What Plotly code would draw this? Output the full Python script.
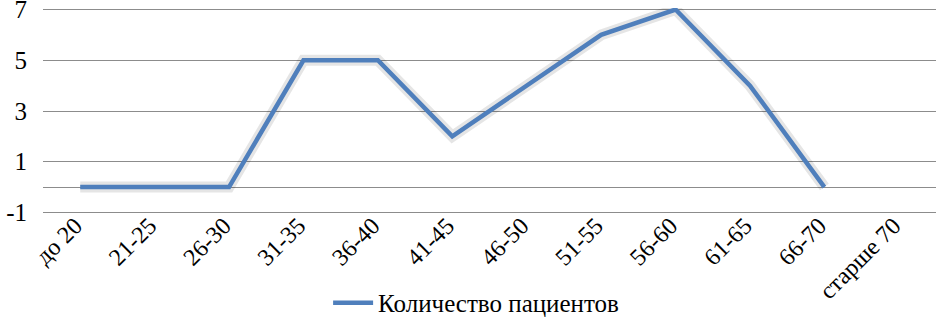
import plotly.graph_objects as go

categories = ["до 20", "21-25", "26-30", "31-35", "36-40", "41-45", "46-50",
              "51-55", "56-60", "61-65", "66-70", "старше 70"]
patients = [0, 0, 0, 5, 5, 2, 4, 6, 7, 4, 0, None]
y_ticks = [-1, 1, 3, 5, 7]
y_tick_labels = ["-1", "1", "3", "5", "7"]
series_name = "Количество пациентов"

font_family = "Times New Roman, Liberation Serif, serif"
blue = "#4F7FBC"

fig = go.Figure()
# soft shadow under the line
fig.add_trace(go.Scatter(x=categories, y=patients, mode="lines",
                         line=dict(color="rgba(0,0,0,0.10)", width=11),
                         showlegend=False, hoverinfo="skip"))
fig.add_trace(go.Scatter(x=categories, y=patients, mode="lines",
                         line=dict(color=blue, width=4.5),
                         name=series_name))

fig.update_layout(
    width=936, height=319,
    margin=dict(l=43, r=0, t=8, b=105, autoexpand=False),
    paper_bgcolor="white", plot_bgcolor="white",
    font=dict(family=font_family, size=24, color="black"),
    showlegend=True,
    legend=dict(orientation="h", x=0.485, xanchor="center", y=-0.432, yanchor="middle",
                font=dict(family=font_family, size=25, color="black"),
                itemwidth=40, bgcolor="rgba(0,0,0,0)"),
)
fig.update_xaxes(type="category", tickangle=-45, showgrid=False, showline=False,
                 ticks="", tickfont=dict(family=font_family, size=24), automargin=False,
                 ticklabelstandoff=-8, ticklabelshift=-5,
                 range=[-0.5, len(categories) - 0.5])
fig.update_yaxes(range=[-1.06, 7.06], tickvals=y_ticks, ticktext=y_tick_labels,
                 showgrid=True, gridcolor="#8C8C8C",
                 gridwidth=1.2, zeroline=True, zerolinecolor="#8C8C8C", zerolinewidth=1.2,
                 showline=False, ticks="outside", ticklen=10, tickcolor="rgba(0,0,0,0)",
                 ticklabeloverflow="allow",
                 automargin=False, tickfont=dict(family=font_family, size=25))

fig.write_html("out.html", config={"displayModeBar": False},
               post_script="document.body.style.margin='0';document.body.style.overflow='hidden';")
